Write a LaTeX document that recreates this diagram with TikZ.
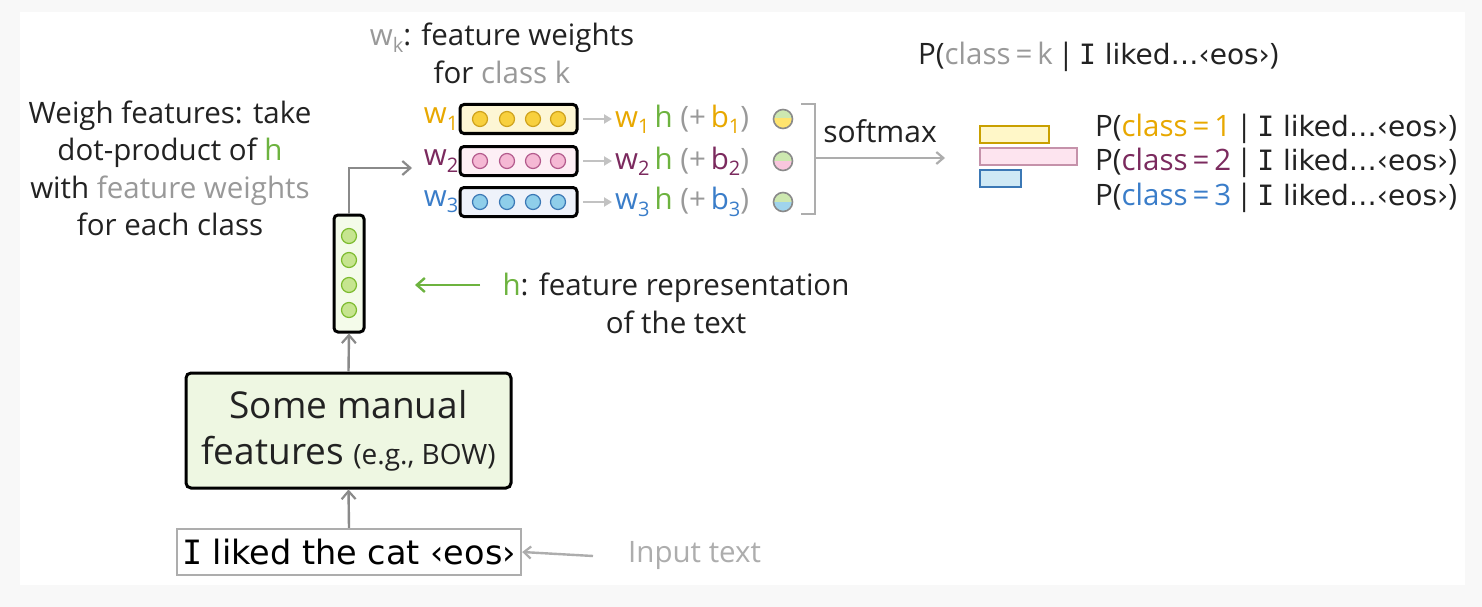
\documentclass[tikz,border=0pt]{standalone}
\usepackage{fontspec}
\setmainfont{Open Sans}
\newfontfamily\comic{DejaVu Sans}
\newfontfamily\comicI{DejaVu Sans Mono}
\usetikzlibrary{arrows.meta}
\definecolor{bgframe}{HTML}{F8F8F8}
\definecolor{txt}{HTML}{222222}
\definecolor{lgray}{HTML}{999999}
\definecolor{agray}{HTML}{8A8A8A}
\definecolor{hgreen}{HTML}{6DB33F}
\definecolor{cyel}{HTML}{E8A800}
\definecolor{cpur}{HTML}{7B2A5E}
\definecolor{cblu}{HTML}{3A7DC9}
\definecolor{hfill}{HTML}{F4FBEA}
\definecolor{hcirc}{HTML}{C6E58F}
\definecolor{hstroke}{HTML}{7CBB2E}
\definecolor{yfill}{HTML}{FDF6D5}
\definecolor{ycirc}{HTML}{F8D03E}
\definecolor{ystroke}{HTML}{CFA21C}
\definecolor{pfill}{HTML}{FDEFF5}
\definecolor{pcirc}{HTML}{F5B8D4}
\definecolor{pstroke}{HTML}{B35A8C}
\definecolor{bfill}{HTML}{EEF2FA}
\definecolor{bcirc}{HTML}{8FCEEA}
\definecolor{bstroke}{HTML}{3B78B5}
\definecolor{ffill}{HTML}{EEF7E2}
\definecolor{sgreen}{HTML}{CDE8B0}
\definecolor{syel}{HTML}{FFE46E}
\definecolor{spink}{HTML}{F9C6DD}
\definecolor{sblue}{HTML}{A0D4EC}
\definecolor{barY}{HTML}{FFF7C8}
\definecolor{barYs}{HTML}{C9A000}
\definecolor{barP}{HTML}{FDE4EF}
\definecolor{barPs}{HTML}{C592AA}
\definecolor{barB}{HTML}{CFE9F5}
\newcommand{\sbs}[1]{\raisebox{-0.4ex}{\fontsize{20}{20}\selectfont #1}}
\newcommand{\fs}[1]{\fontsize{#1}{#1}\selectfont}
\newcommand{\bigI}{{\comicI I}}
\newcommand{\lik}{{\comic\fs{28}\bigI\ liked…‹eos›}}
\tikzset{
  lbl/.style={inner sep=0pt, text=txt, font=\fontsize{29.5}{37.5}\selectfont},
  garrow/.style={draw=agray, line width=2.4pt, -{Straight Barb[length=8pt,width=14pt,line width=2.2pt]}},
  larrow/.style={draw=lgray!70, line width=2.4pt, -{Straight Barb[length=7pt,width=12pt,line width=2.2pt]}},
  tarrow/.style={draw=lgray!60, line width=2.4pt, -{Triangle[length=8pt,width=9pt]}},
  rowbox/.style={draw=black, line width=3pt, rounded corners=4pt, minimum width=117pt, minimum height=29pt, inner sep=0pt},
  dotc/.style={circle, line width=1.2pt, minimum size=15pt, inner sep=0pt},
  halfc/.style={draw=agray, line width=1.6pt},
}
\begin{document}
\begin{tikzpicture}[x=1pt,y=-1pt]
\useasboundingbox (0,0) rectangle (1482,607);
\fill[bgframe] (0,0) rectangle (1482,607);
\fill[white] (20,12) rectangle (1465,585);

% left explanation
\node[lbl, align=center] (expl) at (170,168.5)
  {Weigh features: take\\ dot-product of \textcolor{hgreen}{h}\\ with \textcolor{lgray}{feature weights}\\ for each class};

% wk label
\node[lbl, align=center] (wk) at (502,53.5)
  {\textcolor{lgray}{w\sbs{k}}: feature weights\\ for \textcolor{lgray}{class k}};

% h vector
\node[draw=black, line width=3pt, rounded corners=4pt, fill=hfill, minimum width=30pt, minimum height=117pt, inner sep=0pt] (hv) at (349,273.5) {};
\foreach \yy [count=\i] in {236,260,285,310}
  \node[dotc, draw=hstroke, fill=hcirc] (hc\i) at (349,\yy) {};

% rows
\node[rowbox, fill=yfill] (r1) at (518.5,119) {};
\node[rowbox, fill=pfill] (r2) at (518.5,161) {};
\node[rowbox, fill=bfill] (r3) at (518.5,202) {};
\foreach \xx [count=\j] in {480,507,533,558}{
  \node[dotc, draw=ystroke, fill=ycirc] (c1\j) at (\xx,119) {};
  \node[dotc, draw=pstroke, fill=pcirc] (c2\j) at (\xx,161) {};
  \node[dotc, draw=bstroke, fill=bcirc] (c3\j) at (\xx,202) {};
}
\node[lbl, anchor=east, text=cyel] (w1) at (r1.west) {w\sbs{1}\hspace{1pt}};
\node[lbl, anchor=east, text=cpur] (w2) at (r2.west) {w\sbs{2}\hspace{1pt}};
\node[lbl, anchor=east, text=cblu] (w3) at (r3.west) {w\sbs{3}\hspace{1pt}};

\coordinate (hin) at (412,168);
\draw[garrow] (hv.north) |- (hin);

% products
\node[lbl, anchor=west] (p1) at (615,119) {\textcolor{cyel}{w\sbs{1}}\,\textcolor{hgreen}{h} \textcolor{lgray}{(+}\,\textcolor{cyel}{b\sbs{1}}\textcolor{lgray}{)}};
\node[lbl, anchor=west] (p2) at (615,161) {\textcolor{cpur}{w\sbs{2}}\,\textcolor{hgreen}{h} \textcolor{lgray}{(+}\,\textcolor{cpur}{b\sbs{2}}\textcolor{lgray}{)}};
\node[lbl, anchor=west] (p3) at (615,202) {\textcolor{cblu}{w\sbs{3}}\,\textcolor{hgreen}{h} \textcolor{lgray}{(+}\,\textcolor{cblu}{b\sbs{3}}\textcolor{lgray}{)}};
\coordinate (a1) at (583,119);
\coordinate (a2) at (583,161);
\coordinate (a3) at (583,202);
\draw[tarrow] (a1) -- ([xshift=-3pt]p1.west);
\draw[tarrow] (a2) -- ([xshift=-3pt]p2.west);
\draw[tarrow] (a3) -- ([xshift=-3pt]p3.west);

% half circles
\foreach \yy/\cc [count=\k] in {119/syel,161/spink,202/sblue}{
  \coordinate (s\k) at (783,\yy);
  \begin{scope}
    \clip (772,\yy-12) rectangle (794,\yy);
    \fill[sgreen] (s\k) circle (9.5pt);
  \end{scope}
  \begin{scope}
    \clip (772,\yy) rectangle (794,\yy+12);
    \fill[\cc] (s\k) circle (9.5pt);
  \end{scope}
  \draw[halfc] (s\k) circle (9.5pt);
}

% bracket and softmax
\coordinate (bt) at (801,104);
\coordinate (bb) at (801,214);
\coordinate (bm) at (815,158);
\coordinate (smax) at (945,158);
\draw[draw=lgray!80, line width=2.4pt] (bt) -- (815,104) -- (815,214) -- (bb);
\draw[larrow, draw=lgray!80] (bm) -- (smax);
\node[lbl, font=\fs{30}] (sm) at (880,131) {softmax};

% bars
\node[draw=barYs, fill=barY, line width=2.4pt, minimum width=69pt, minimum height=17pt, inner sep=0pt, anchor=north west] (b1) at (979,125) {};
\node[draw=barPs, fill=barP, line width=2.4pt, minimum width=97pt, minimum height=17pt, inner sep=0pt, anchor=north west] (b2) at (979,147) {};
\node[draw=bstroke, fill=barB, line width=2.4pt, minimum width=41pt, minimum height=17pt, inner sep=0pt, anchor=north west] (b3) at (979,169) {};

% probabilities
\node[lbl, anchor=west] (pk) at (918,57) {P(\textcolor{lgray}{class\,=\,k}\,|\,\lik)};
\node[lbl, anchor=west] (q1) at (1095,129) {P(\textcolor{cyel}{class\,=\,1}\,|\,\lik)};
\node[lbl, anchor=west] (q2) at (1095,163) {P(\textcolor{cpur}{class\,=\,2}\,|\,\lik)};
\node[lbl, anchor=west] (q3) at (1095,198) {P(\textcolor{cblu}{class\,=\,3}\,|\,\lik)};

% h label
\node[lbl, align=center] (hl) at (676,303.5)
  {\textcolor{hgreen}{h}: feature representation\\ of the text};
\coordinate (hlarrow) at (480,285);
\coordinate (hltip) at (415,285);
\draw[draw=hgreen, line width=2.6pt, -{Straight Barb[length=8pt,width=14pt,line width=2.4pt]}] (hlarrow) -- (hltip);

% features box
\node[draw=black, line width=3pt, rounded corners=5pt, fill=ffill, minimum width=325pt, minimum height=115pt, inner sep=0pt, align=center, text=txt, font=\fontsize{37}{46}\selectfont] (feat) at (348.5,430.5)
  {Some manual\\ features {\fontsize{28}{46}\selectfont(e.g., BOW)}};
\draw[garrow] (feat.north) -- (hv.south);

% input
\node[draw=lgray!80, line width=2.4pt, fill=white, minimum width=344pt, minimum height=46pt, inner sep=0pt, font=\comic\fs{33.5}] (inp) at (349,552) {\bigI\ liked the cat ‹eos›};
\draw[garrow] (inp.north) -- (feat.south);
\node[lbl, text=lgray!80, anchor=west] (it) at (628,556) {Input text};
\coordinate (itarrow) at (593,556);
\draw[larrow, draw=lgray!80] (itarrow) -- (inp.east);
\end{tikzpicture}
\end{document}
